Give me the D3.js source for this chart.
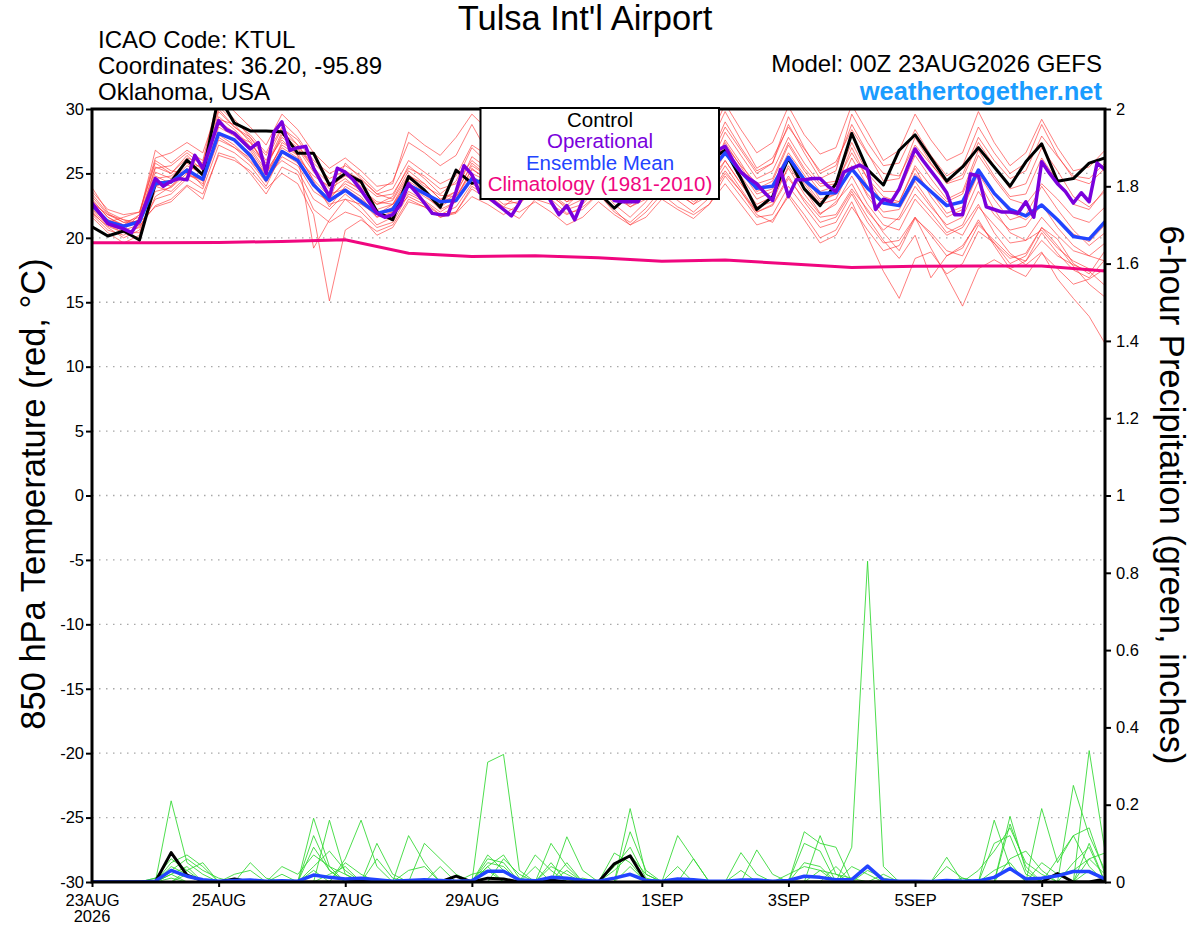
<!DOCTYPE html>
<html>
<head>
<meta charset="utf-8">
<script src="https://cdn.jsdelivr.net/npm/d3@7"></script>
<style>
  body { margin: 0; background: #fff; }
  svg { display: block; font-family: "Liberation Sans", Arial, sans-serif; }
</style>
</head>
<body>
<div id="chart"></div>
<script>
// forecast hours run 0..384; most series every 6h, operational every 3h, climatology daily
const stepHours = 6;
const opStepHours = 3;
const climoStepHours = 24;

const tempTicks = [-30, -25, -20, -15, -10, -5, 0, 5, 10, 15, 20, 25, 30];
const precipTicks = [0, 0.2, 0.4, 0.6, 0.8, 1, 1.2, 1.4, 1.6, 1.8, 2];
const dateTickHours = [0, 48, 96, 144, 216, 264, 312, 360];
const dateTickLabels = ['23AUG', '25AUG', '27AUG', '29AUG', '1SEP', '3SEP', '5SEP', '7SEP'];

const controlTemp = [
  20.86, 20.14, 20.53, 19.83, 24.2, 24.36, 26.04, 24.88, 31.0, 28.9,
  28.3, 28.3, 28.24, 26.56, 26.56, 24.1, 25.0, 24.36, 22.03, 21.4,
  24.75, 23.7, 22.37, 25.26, 24.23, 24.6, 23.9, 24.8, 25.3, 24.4,
  24.0, 24.6, 23.5, 22.3, 23.4, 24.5, 25.0, 25.6, 25.2, 26.0,
  26.8, 24.6, 22.2, 23.2, 26.2, 23.8, 22.5, 24.2, 28.1, 25.3,
  24.1, 26.8, 28.0, 26.2, 24.4, 25.5, 27.0, 25.5, 24.0, 25.9,
  27.3, 24.4, 24.6, 25.8, 26.2
];

const operationalTemp = [
  22.7, 21.9, 21.1, 20.9, 20.7, 20.4, 21.4, 23.0, 24.6, 24.0,
  24.4, 24.6, 24.5, 26.4, 25.4, 27.2, 29.1, 28.4, 28.1, 27.5,
  26.9, 27.4, 25.0, 28.2, 29.0, 26.8, 27.0, 27.1, 25.4, 24.3,
  23.2, 25.4, 25.1, 24.5, 23.7, 22.8, 21.9, 21.6, 21.8, 22.6,
  24.2, 23.5, 22.7, 21.9, 21.8, 21.8, 23.6, 25.6, 24.9, 23.5,
  23.2, 22.7, 22.2, 21.7, 22.7, 24.0, 24.5, 24.0, 22.8, 21.8,
  22.5, 21.4, 22.9, 24.5, 25.0, 23.8, 22.9, 22.8, 22.8, 22.8,
  24.0, 25.0, 25.5, 25.0, 24.6, 25.5, 26.0, 25.8, 26.3, 26.8,
  27.1, 26.0, 25.1, 24.6, 24.2, 23.5, 22.9, 25.3, 23.2, 24.5,
  24.5, 24.6, 24.6, 24.0, 23.6, 25.1, 25.4, 25.65, 25.3, 22.2,
  23.0, 22.8, 23.8, 25.4, 26.9, 26.0, 25.2, 24.4, 23.5, 21.8,
  21.8, 24.95, 24.8, 22.4, 22.2, 22.0, 22.0, 21.9, 22.8, 21.6,
  25.9, 25.0, 24.2, 23.6, 22.7, 23.5, 22.8, 25.8, 25.3
];

const meanTemp = [
  22.55, 21.25, 20.9, 21.25, 24.2, 24.35, 25.26, 24.54, 28.1, 27.6,
  26.4, 24.5, 26.7, 26.0, 24.1, 22.9, 23.7, 22.8, 21.9, 22.2,
  24.1, 23.45, 22.8, 22.9, 24.6, 24.0, 23.8, 23.5, 23.6, 24.0,
  24.3, 24.0, 23.6, 23.5, 23.9, 24.3, 24.6, 24.5, 24.8, 25.1,
  26.6, 25.1, 23.85, 24.0, 26.25, 24.5, 23.45, 23.5, 25.35, 23.85,
  22.7, 22.5, 24.7, 23.6, 22.5, 22.8, 25.26, 23.45, 22.2, 21.7,
  22.55, 21.4, 20.1, 19.9, 21.25
];

const climoTemp = [
  19.62, 19.62, 19.64, 19.72, 19.85, 18.8, 18.56, 18.6, 18.45,
  18.18, 18.28, 17.98, 17.7, 17.8, 17.82, 17.82, 17.42
];

const memberTemps = [
  [23.2, 21.8, 21.2, 21.6, 25.5, 25.0, 26.2, 25.8, 30.5, 29.2, 27.8, 26.0, 28.5, 27.6, 25.8, 24.6,
   25.2, 24.5, 23.4, 23.8, 26.0, 25.1, 24.2, 24.8, 27.2, 26.4, 25.5, 25.8, 27.4, 26.2, 25.0, 25.6,
   26.8, 25.4, 24.9, 26.0, 27.6, 26.5, 26.0, 27.2, 29.8, 27.6, 25.4, 26.2, 28.6, 26.9, 25.2, 25.9,
   28.4, 26.5, 25.0, 24.8, 27.2, 25.7, 24.3, 24.9, 27.8, 26.0, 24.6, 25.2, 27.9, 26.3, 24.8, 24.6, 25.8],
  [21.8, 20.6, 20.2, 20.9, 22.5, 23.0, 24.1, 23.4, 26.4, 26.0, 25.2, 23.8, 25.0, 24.2, 21.8, 15.1,
   20.6, 21.4, 20.5, 21.0, 23.0, 22.4, 21.6, 22.0, 23.8, 23.0, 22.2, 21.5, 23.0, 22.6, 21.8, 22.4,
   23.4, 22.0, 21.2, 22.3, 23.8, 22.9, 22.0, 23.1, 25.0, 23.6, 22.0, 22.5, 24.6, 23.0, 21.6, 21.8,
   23.8, 22.2, 20.4, 19.0, 21.5, 20.4, 19.0, 18.6, 21.0, 19.8, 18.6, 18.2, 20.4, 18.8, 17.5, 16.9, 18.3],
  [22.4, 21.0, 20.6, 21.0, 24.8, 24.2, 25.4, 24.0, 28.6, 27.9, 26.8, 25.0, 27.2, 26.4, 24.5, 23.2,
   24.2, 23.5, 22.6, 22.9, 24.9, 24.0, 23.3, 23.2, 25.3, 24.6, 23.4, 24.0, 25.2, 24.8, 23.6, 24.1,
   25.0, 23.9, 23.0, 24.1, 25.6, 24.6, 23.8, 25.0, 27.4, 25.5, 23.6, 24.1, 26.6, 24.9, 23.0, 23.4,
   26.2, 24.0, 22.8, 22.5, 25.0, 23.6, 21.9, 22.4, 25.1, 23.4, 22.0, 21.4, 22.6, 21.5, 20.3, 19.7, 21.0],
  [23.9, 22.0, 21.4, 21.2, 24.0, 23.6, 24.8, 24.6, 27.8, 27.0, 25.9, 24.3, 26.3, 25.6, 23.6, 22.8,
   23.6, 22.8, 21.6, 22.4, 24.6, 23.8, 22.6, 23.4, 25.8, 24.8, 23.9, 23.3, 24.2, 23.4, 22.5, 23.7,
   24.8, 23.6, 22.4, 23.0, 24.4, 23.5, 22.6, 23.8, 26.0, 24.2, 22.4, 22.8, 25.6, 23.8, 21.9, 22.6,
   24.8, 22.6, 21.0, 20.6, 23.0, 21.6, 20.2, 20.8, 22.6, 20.4, 18.8, 17.9, 18.9, 16.8, 15.3, 13.9, 11.8],
  [22.0, 20.8, 20.0, 20.6, 23.6, 23.9, 25.0, 24.4, 29.4, 28.4, 27.1, 25.6, 27.8, 26.9, 25.1, 23.8,
   24.6, 23.6, 22.2, 22.6, 24.4, 23.6, 22.8, 23.6, 26.3, 25.4, 24.2, 24.4, 25.8, 24.6, 23.4, 23.9,
   24.9, 23.2, 22.4, 23.2, 24.9, 23.4, 22.6, 23.3, 25.2, 23.6, 21.8, 21.2, 23.4, 21.8, 20.0, 20.6,
   22.8, 20.1, 17.4, 15.3, 18.4, 18.9, 17.2, 18.0, 20.5, 19.6, 18.4, 18.8, 20.8, 19.9, 18.0, 17.2, 19.0],
  [22.9, 21.6, 20.9, 21.4, 25.1, 24.6, 26.0, 25.4, 28.2, 27.5, 26.6, 24.8, 26.0, 25.2, 23.0, 22.2,
   23.4, 22.4, 21.0, 21.6, 23.6, 22.9, 22.0, 22.8, 24.8, 24.0, 23.0, 22.6, 23.9, 23.0, 21.9, 22.2,
   23.4, 22.2, 21.0, 21.6, 23.0, 22.2, 21.5, 22.6, 24.8, 23.2, 21.6, 21.8, 24.0, 22.4, 20.8, 21.2,
   23.4, 21.2, 19.6, 19.8, 21.6, 19.2, 17.0, 14.7, 17.6, 18.3, 17.6, 18.2, 19.8, 18.6, 17.9, 17.4, 16.3],
  [22.6, 21.4, 21.0, 21.8, 26.8, 25.8, 26.8, 26.0, 31.0, 29.8, 28.6, 27.2, 29.6, 28.4, 26.6, 25.4,
   26.2, 25.2, 24.0, 24.2, 28.2, 27.2, 26.4, 27.8, 29.6, 28.4, 27.2, 27.6, 28.4, 27.0, 25.8, 26.4,
   27.6, 26.2, 25.6, 26.8, 28.4, 27.2, 26.4, 27.6, 30.4, 28.4, 26.6, 27.4, 30.2, 28.0, 26.5, 27.0,
   30.3, 28.2, 26.0, 26.8, 29.6, 27.6, 26.0, 26.6, 29.8, 27.4, 25.6, 26.6, 29.2, 27.0, 25.2, 25.5, 26.8],
  [23.4, 21.9, 21.2, 21.2, 22.4, 22.8, 24.0, 23.0, 26.6, 26.2, 25.0, 23.4, 25.5, 24.9, 22.2, 21.2,
   22.0, 21.6, 20.2, 20.8, 22.8, 22.4, 21.6, 21.9, 23.2, 22.6, 21.8, 22.6, 24.2, 23.2, 22.4, 23.0,
   24.2, 23.0, 22.6, 23.6, 25.2, 24.0, 23.2, 24.2, 26.6, 24.8, 23.0, 23.6, 26.2, 24.2, 22.6, 23.0,
   25.6, 23.2, 21.6, 21.4, 23.4, 22.0, 20.4, 21.0, 23.6, 21.8, 20.6, 20.9, 22.6, 20.8, 19.4, 18.6, 18.2],
  [22.2, 21.2, 21.6, 22.0, 25.8, 25.0, 26.4, 25.2, 28.8, 28.0, 27.4, 25.8, 27.6, 26.4, 19.2, 21.4,
   23.0, 22.6, 21.8, 22.6, 24.0, 23.2, 22.4, 23.2, 25.0, 24.4, 23.8, 23.0, 24.6, 24.0, 23.2, 24.8,
   26.0, 24.8, 23.8, 24.6, 26.2, 25.4, 24.4, 25.0, 27.2, 25.6, 24.2, 24.6, 27.4, 25.4, 24.0, 24.2,
   26.6, 24.6, 23.2, 22.8, 25.6, 24.0, 22.8, 23.4, 26.4, 24.6, 23.0, 22.6, 24.2, 23.0, 21.6, 21.2, 22.4],
  [21.6, 20.4, 19.6, 20.2, 24.0, 24.4, 25.6, 25.0, 29.8, 28.6, 27.6, 25.4, 28.0, 27.0, 25.4, 23.4,
   23.8, 23.0, 22.0, 22.0, 23.2, 22.6, 21.8, 22.4, 24.2, 23.4, 22.4, 23.4, 24.8, 23.8, 22.8, 23.2,
   24.4, 23.4, 22.8, 23.8, 25.0, 24.2, 23.4, 24.4, 26.0, 24.2, 22.6, 23.2, 25.4, 23.4, 21.8, 22.8,
   24.2, 22.0, 20.6, 21.6, 24.0, 22.4, 21.0, 21.6, 24.4, 22.2, 20.4, 19.8, 20.6, 19.2, 18.2, 17.6, 17.4],
  [23.6, 22.2, 21.8, 22.0, 26.2, 26.6, 27.4, 26.6, 30.2, 29.0, 28.0, 26.6, 29.0, 27.8, 26.0, 25.0,
   25.6, 24.8, 23.6, 24.4, 27.4, 26.6, 25.6, 26.4, 28.8, 26.6, 25.4, 25.2, 26.4, 25.6, 24.4, 25.4,
   27.0, 25.8, 24.8, 25.4, 26.6, 25.6, 24.8, 26.0, 28.6, 26.8, 25.0, 25.8, 28.8, 26.6, 24.6, 25.2,
   29.6, 27.4, 25.6, 25.8, 28.4, 26.4, 24.8, 25.6, 28.6, 26.6, 25.0, 25.8, 28.8, 26.4, 24.6, 24.2, 25.4],
  [22.8, 21.0, 20.4, 20.8, 23.0, 23.4, 24.6, 23.8, 27.2, 26.6, 25.6, 24.0, 26.6, 25.8, 24.0, 22.6,
   23.0, 22.0, 20.8, 21.2, 23.4, 22.8, 21.8, 22.0, 24.0, 23.2, 22.4, 22.0, 22.8, 22.0, 21.0, 21.6,
   22.8, 21.8, 21.0, 22.0, 23.4, 22.4, 21.8, 22.6, 24.2, 22.6, 21.0, 21.4, 23.2, 21.4, 19.6, 20.2,
   22.4, 20.6, 19.0, 19.4, 21.6, 20.2, 18.6, 19.4, 21.2, 19.6, 18.0, 18.6, 20.8, 19.4, 17.8, 16.4, 15.4],
  [22.3, 21.4, 20.8, 21.4, 25.4, 25.6, 26.6, 25.6, 29.0, 28.2, 27.0, 25.2, 27.0, 26.2, 24.8, 24.0,
   24.8, 24.2, 23.2, 23.4, 25.4, 24.8, 23.8, 24.2, 26.0, 25.0, 24.0, 24.6, 25.8, 24.6, 23.6, 24.4,
   25.6, 24.4, 23.4, 24.4, 25.8, 24.8, 24.0, 25.4, 28.2, 26.4, 24.6, 25.2, 27.8, 25.8, 24.2, 24.4,
   27.4, 25.0, 23.6, 23.6, 26.4, 24.6, 23.0, 23.6, 26.8, 24.8, 23.2, 23.4, 26.2, 24.4, 22.6, 22.2, 23.8],
  [21.9, 20.9, 20.4, 20.4, 23.2, 24.0, 25.2, 24.6, 28.0, 27.2, 26.0, 24.6, 27.4, 26.6, 24.4, 22.4,
   24.0, 23.2, 21.6, 22.0, 24.2, 23.4, 22.2, 22.8, 24.6, 23.6, 22.6, 22.8, 24.4, 23.4, 22.2, 22.6,
   24.0, 22.6, 21.6, 22.8, 24.6, 23.8, 22.8, 23.6, 25.6, 23.8, 22.0, 22.6, 24.8, 22.8, 21.2, 21.6,
   23.6, 21.6, 19.8, 18.4, 20.2, 16.9, 18.6, 19.2, 21.4, 19.4, 17.6, 17.0, 18.8, 17.6, 16.4, 16.8, 17.6],
  [23.0, 21.6, 21.0, 21.4, 24.6, 24.8, 25.8, 24.8, 29.2, 28.8, 27.4, 25.6, 28.2, 27.2, 25.4, 24.2,
   25.0, 24.0, 22.6, 23.2, 25.6, 24.6, 23.4, 24.4, 27.0, 25.8, 24.8, 25.4, 27.2, 25.8, 24.6, 25.2,
   26.4, 25.0, 24.2, 25.2, 26.8, 25.6, 24.8, 26.2, 29.0, 27.0, 25.2, 25.8, 29.4, 27.0, 25.0, 25.6,
   28.8, 26.6, 24.4, 24.6, 27.8, 25.8, 24.2, 24.6, 27.4, 25.6, 23.8, 24.2, 27.0, 25.2, 23.2, 22.4, 23.6],
  [22.1, 21.0, 20.6, 21.8, 26.0, 25.2, 25.0, 24.2, 27.6, 27.0, 26.2, 25.0, 26.8, 26.0, 24.2, 23.0,
   24.4, 23.8, 22.8, 22.6, 24.8, 24.2, 23.0, 23.6, 25.6, 24.8, 23.6, 23.8, 25.4, 24.2, 23.0, 23.4,
   25.4, 24.6, 23.6, 24.8, 26.6, 25.2, 24.2, 24.8, 27.0, 25.2, 23.4, 23.8, 26.2, 24.4, 22.8, 23.4,
   25.4, 23.4, 22.0, 22.2, 24.4, 22.6, 20.8, 20.2, 22.4, 21.0, 19.6, 19.8, 21.6, 20.2, 19.0, 18.6, 19.6],
  [22.7, 21.8, 21.4, 21.0, 24.4, 24.0, 25.2, 25.8, 30.0, 28.6, 27.8, 26.4, 28.6, 27.2, 25.6, 23.0,
   25.8, 24.6, 23.4, 23.0, 25.2, 24.2, 23.0, 23.0, 25.4, 24.4, 23.2, 23.6, 24.6, 23.8, 22.8, 23.8,
   25.2, 24.2, 23.2, 23.8, 25.4, 24.4, 23.6, 24.6, 27.6, 25.8, 23.8, 24.4, 27.2, 25.2, 23.6, 24.0,
   27.0, 24.6, 22.6, 22.8, 25.4, 23.2, 21.6, 22.2, 25.0, 23.0, 21.4, 21.8, 24.0, 22.2, 20.6, 19.4, 20.4]
];

const controlPrecip = [
  0, 0, 0, 0, 0, 0.076, 0.018, 0.003, 0, 0.008,
  0, 0, 0, 0, 0, 0, 0, 0.004, 0, 0,
  0, 0, 0, 0.015, 0, 0.01, 0.008, 0, 0, 0.005,
  0, 0, 0, 0.047, 0.068, 0, 0, 0, 0, 0,
  0, 0, 0, 0, 0, 0, 0, 0, 0, 0,
  0, 0, 0, 0, 0, 0, 0, 0, 0, 0,
  0, 0.022, 0, 0, 0.008
];

const meanPrecip = [
  0, 0, 0, 0, 0.002, 0.03, 0.015, 0.006, 0.002, 0.004,
  0.005, 0.002, 0.003, 0.002, 0.018, 0.012, 0.008, 0.01, 0.006, 0.002,
  0.004, 0.006, 0.004, 0.002, 0.003, 0.028, 0.028, 0.005, 0.003, 0.012,
  0.01, 0.004, 0.002, 0.01, 0.02, 0.004, 0.002, 0.008, 0.006, 0.002,
  0.002, 0.005, 0.005, 0.002, 0.004, 0.015, 0.012, 0.006, 0.006, 0.041,
  0.005, 0.002, 0.002, 0.001, 0.004, 0.002, 0.003, 0.012, 0.035, 0.008,
  0.01, 0.016, 0.027, 0.027, 0.008
];

const memberPrecips = [
  [0, 0, 0, 0, 0, 0.21, 0.05, 0.02, 0, 0,  0, 0, 0, 0, 0.09, 0.03, 0, 0, 0, 0,
   0, 0, 0, 0, 0, 0.05, 0.04, 0, 0, 0,  0, 0, 0, 0, 0.19, 0.02, 0, 0, 0, 0,
   0, 0, 0, 0, 0, 0.13, 0.1, 0.09, 0, 0,  0, 0, 0, 0, 0, 0, 0, 0, 0.15, 0.04,
   0, 0, 0, 0.34, 0.08],
  [0, 0, 0, 0, 0, 0.05, 0.07, 0.04, 0, 0,  0, 0, 0, 0, 0, 0.16, 0.02, 0, 0, 0,
   0, 0, 0, 0, 0, 0.31, 0.33, 0.03, 0, 0,  0.05, 0, 0, 0, 0, 0, 0, 0, 0, 0,
   0, 0, 0, 0, 0, 0, 0, 0, 0.09, 0.83,  0.04, 0, 0, 0, 0, 0, 0, 0.16, 0.04, 0,
   0, 0, 0, 0, 0],
  [0, 0, 0, 0, 0.01, 0.03, 0.06, 0.03, 0.01, 0,  0, 0, 0, 0, 0.165, 0.04, 0.02, 0, 0, 0,
   0.12, 0.05, 0, 0, 0, 0, 0, 0, 0.07, 0.03,  0, 0, 0, 0, 0.13, 0.03, 0, 0, 0, 0,
   0, 0, 0, 0, 0, 0, 0.12, 0.02, 0, 0,  0, 0, 0, 0, 0, 0, 0, 0, 0, 0,
   0.19, 0.05, 0.12, 0.14, 0.02],
  [0, 0, 0, 0, 0, 0.04, 0.02, 0, 0, 0,  0.05, 0.01, 0, 0, 0, 0, 0.06, 0.16, 0.04, 0,
   0, 0, 0, 0, 0, 0.06, 0.05, 0, 0, 0.1,  0.04, 0, 0, 0.075, 0.05, 0, 0, 0.12, 0.06, 0,
   0, 0, 0, 0, 0, 0.1, 0.08, 0, 0, 0,  0, 0, 0, 0, 0, 0, 0, 0, 0.17, 0.03,
   0, 0, 0.25, 0.12, 0.03],
  [0, 0, 0, 0, 0, 0.02, 0.04, 0, 0, 0,  0, 0, 0.04, 0.02, 0.07, 0.04, 0, 0, 0.1, 0.02,
   0, 0.1, 0.06, 0.02, 0, 0, 0.06, 0.02, 0, 0,  0.117, 0.03, 0, 0, 0, 0, 0, 0, 0, 0,
   0, 0.076, 0.02, 0, 0, 0, 0, 0, 0.04, 0.02,  0, 0, 0, 0, 0.064, 0, 0, 0.1, 0.12, 0.02,
   0, 0, 0, 0.06, 0.075],
  [0, 0, 0, 0, 0, 0, 0.03, 0.05, 0, 0,  0, 0, 0, 0, 0.04, 0.08, 0.03, 0, 0, 0,
   0, 0, 0.04, 0, 0, 0.04, 0, 0, 0.04, 0,  0, 0, 0, 0.03, 0.07, 0.02, 0, 0, 0.06, 0,
   0, 0, 0.083, 0.02, 0, 0, 0, 0.04, 0, 0,  0, 0, 0, 0, 0.04, 0.01, 0, 0, 0, 0,
   0, 0.06, 0.12, 0.04, 0],
  [0, 0, 0, 0, 0, 0.02, 0, 0, 0, 0.02,  0.03, 0, 0, 0, 0.12, 0.03, 0, 0, 0, 0,
   0.03, 0.04, 0, 0, 0, 0, 0, 0, 0, 0.04,  0.02, 0, 0, 0, 0, 0, 0, 0, 0, 0,
   0, 0, 0, 0, 0, 0.05, 0.04, 0, 0, 0,  0.02, 0, 0, 0, 0, 0, 0.03, 0.08, 0.14, 0.05,
   0.02, 0, 0, 0.1, 0],
  [0, 0, 0, 0, 0, 0, 0.02, 0, 0, 0,  0, 0, 0, 0, 0.03, 0, 0.05, 0.02, 0, 0,
   0, 0, 0, 0, 0, 0.04, 0.07, 0.01, 0, 0,  0, 0, 0, 0.04, 0.09, 0.01, 0, 0, 0, 0,
   0, 0, 0, 0, 0, 0, 0.03, 0.02, 0.01, 0,  0, 0, 0, 0, 0, 0.01, 0, 0, 0, 0,
   0.05, 0.02, 0.03, 0.06, 0.02],
  [0, 0, 0, 0, 0, 0.01, 0, 0, 0, 0,  0, 0, 0.02, 0, 0, 0, 0, 0, 0.06, 0.01,
   0, 0, 0, 0, 0.02, 0.03, 0, 0, 0, 0.05,  0, 0.01, 0, 0, 0, 0, 0, 0.04, 0, 0,
   0, 0.03, 0, 0, 0, 0, 0, 0, 0, 0.03,  0.01, 0, 0, 0, 0, 0, 0, 0, 0.06, 0.08,
   0.03, 0, 0.05, 0.09, 0],
  [0, 0, 0, 0, 0.01, 0.06, 0.03, 0, 0, 0,  0, 0, 0, 0, 0, 0.02, 0.04, 0, 0, 0,
   0, 0, 0, 0, 0, 0.07, 0.03, 0, 0, 0,  0.03, 0, 0, 0, 0.04, 0, 0, 0, 0, 0,
   0, 0, 0, 0, 0.02, 0.04, 0.03, 0, 0, 0,  0, 0, 0, 0, 0, 0, 0, 0.03, 0.05, 0,
   0, 0, 0, 0.03, 0.01]
];

const width = 1200;
const height = 927;
const plot = {left: 92, right: 1105, top: 109, bottom: 882};

const svg = d3.select('#chart')
    .append('svg')
    .attr('width', width)
    .attr('height', height);

const x = d3.scaleLinear()
    .domain([0, 384])
    .range([plot.left, plot.right]);

const y = d3.scaleLinear()
    .domain([-30, 30])
    .range([plot.bottom, plot.top]);

const yPrecip = d3.scaleLinear()
    .domain([0, 2])
    .range([plot.bottom, plot.top]);

svg.append('defs').append('clipPath')
    .attr('id', 'plot-clip')
    .append('rect')
    .attr('x', plot.left)
    .attr('y', plot.top)
    .attr('width', plot.right - plot.left)
    .attr('height', plot.bottom - plot.top);

// dotted grid at the temperature ticks
svg.append('g')
    .selectAll('line')
    .data(tempTicks.slice(1, -1))
    .enter()
    .append('line')
    .attr('x1', plot.left)
    .attr('x2', plot.right)
    .attr('y1', d => y(d))
    .attr('y2', d => y(d))
    .attr('stroke', '#a8a8a8')
    .attr('stroke-width', 1.3)
    .attr('stroke-dasharray', '1.5,5.5');

const tempLine = step => d3.line()
    .x((d, i) => x(i * step))
    .y(d => y(d));

const precipLine = d3.line()
    .x((d, i) => x(i * stepHours))
    .y(d => yPrecip(d));

const lines = svg.append('g').attr('clip-path', 'url(#plot-clip)');

lines.selectAll('path.member-temp')
    .data(memberTemps)
    .enter()
    .append('path')
    .attr('class', 'member-temp')
    .attr('fill', 'none')
    .attr('stroke', '#ff3434')
    .attr('stroke-opacity', 0.75)
    .attr('stroke-width', 0.85)
    .attr('d', tempLine(stepHours));

lines.selectAll('path.member-precip')
    .data(memberPrecips)
    .enter()
    .append('path')
    .attr('class', 'member-precip')
    .attr('fill', 'none')
    .attr('stroke', '#2ed82e')
    .attr('stroke-width', 0.85)
    .attr('d', precipLine);

lines.append('path')
    .datum(climoTemp)
    .attr('fill', 'none')
    .attr('stroke', '#f0067f')
    .attr('stroke-width', 3)
    .attr('d', tempLine(climoStepHours));

lines.append('path')
    .datum(controlTemp)
    .attr('fill', 'none')
    .attr('stroke', '#000')
    .attr('stroke-width', 3)
    .attr('stroke-linejoin', 'round')
    .attr('d', tempLine(stepHours));

lines.append('path')
    .datum(meanTemp)
    .attr('fill', 'none')
    .attr('stroke', '#2244ff')
    .attr('stroke-width', 3.5)
    .attr('stroke-linejoin', 'round')
    .attr('d', tempLine(stepHours));

lines.append('path')
    .datum(operationalTemp)
    .attr('fill', 'none')
    .attr('stroke', '#7a00dc')
    .attr('stroke-width', 3.5)
    .attr('stroke-linejoin', 'round')
    .attr('d', tempLine(opStepHours));

lines.append('path')
    .datum(controlPrecip)
    .attr('fill', 'none')
    .attr('stroke', '#000')
    .attr('stroke-width', 3)
    .attr('stroke-linejoin', 'round')
    .attr('d', precipLine);

lines.append('path')
    .datum(meanPrecip)
    .attr('fill', 'none')
    .attr('stroke', '#2244ff')
    .attr('stroke-width', 3.5)
    .attr('stroke-linejoin', 'round')
    .attr('d', precipLine);

// axes
const styleAxis = g => {
    g.select('.domain').remove();
    g.selectAll('.tick line').attr('stroke', '#000').attr('stroke-width', 2);
    g.selectAll('.tick text')
        .attr('fill', '#000')
        .style('font-size', '16.5px')
        .style('font-family', '"Liberation Sans", Arial, sans-serif');
};

svg.append('g')
    .attr('transform', `translate(${plot.left},0)`)
    .call(d3.axisLeft(y).tickValues(tempTicks).tickSize(6).tickPadding(2).tickFormat(d => String(d)))
    .call(styleAxis)
    .selectAll('.tick text').attr('dy', '0.32em');

svg.append('g')
    .attr('transform', `translate(${plot.right},0)`)
    .call(d3.axisRight(yPrecip).tickValues(precipTicks).tickSize(6).tickPadding(5).tickFormat(d => String(d)))
    .call(styleAxis)
    .selectAll('.tick text').attr('dy', '0.32em');

svg.append('g')
    .attr('transform', `translate(0,${plot.bottom})`)
    .call(d3.axisBottom(x).tickValues(dateTickHours).tickSize(5).tickPadding(7).tickFormat((d, i) => dateTickLabels[i]))
    .call(styleAxis);

svg.append('text')
    .attr('x', x(0))
    .attr('y', 922)
    .attr('text-anchor', 'middle')
    .style('font-size', '16.5px')
    .text('2026');

svg.append('rect')
    .attr('x', plot.left)
    .attr('y', plot.top)
    .attr('width', plot.right - plot.left)
    .attr('height', plot.bottom - plot.top)
    .attr('fill', 'none')
    .attr('stroke', '#000')
    .attr('stroke-width', 3);

// legend
const legendItems = [
    {label: 'Control', color: '#000'},
    {label: 'Operational', color: '#7a00dc'},
    {label: 'Ensemble Mean', color: '#2244ff'},
    {label: 'Climatology (1981-2010)', color: '#f0067f'}
];

const legend = svg.append('g');

legend.append('rect')
    .attr('x', 480.5)
    .attr('y', 108)
    .attr('width', 238.5)
    .attr('height', 91)
    .attr('fill', '#fff')
    .attr('stroke', '#000')
    .attr('stroke-width', 2);

legend.selectAll('text')
    .data(legendItems)
    .enter()
    .append('text')
    .attr('x', 600)
    .attr('y', (d, i) => 127 + i * 21.3)
    .attr('text-anchor', 'middle')
    .attr('fill', d => d.color)
    .style('font-size', '20.5px')
    .text(d => d.label);

// titles
svg.append('text')
    .attr('x', 585)
    .attr('y', 30)
    .attr('text-anchor', 'middle')
    .style('font-size', '34.5px')
    .text("Tulsa Int'l Airport");

const infoLeft = ['ICAO Code: KTUL', 'Coordinates: 36.20, -95.89', 'Oklahoma, USA'];

svg.selectAll('text.info')
    .data(infoLeft)
    .enter()
    .append('text')
    .attr('class', 'info')
    .attr('x', 98)
    .attr('y', (d, i) => 48 + i * 25.8)
    .style('font-size', '24px')
    .text(d => d);

svg.append('text')
    .attr('x', 1102)
    .attr('y', 72)
    .attr('text-anchor', 'end')
    .style('font-size', '24px')
    .text('Model: 00Z 23AUG2026 GEFS');

svg.append('text')
    .attr('x', 1102)
    .attr('y', 100)
    .attr('text-anchor', 'end')
    .attr('fill', '#1a9cff')
    .style('font-size', '25.5px')
    .style('font-weight', 'bold')
    .text('weathertogether.net');

svg.append('text')
    .attr('transform', 'translate(45,494) rotate(-90)')
    .attr('text-anchor', 'middle')
    .style('font-size', '34.5px')
    .text('850 hPa Temperature (red, °C)');

svg.append('text')
    .attr('transform', 'translate(1160,495) rotate(90)')
    .attr('text-anchor', 'middle')
    .style('font-size', '34.5px')
    .text('6-hour Precipitation (green, inches)');
</script>
</body>
</html>
